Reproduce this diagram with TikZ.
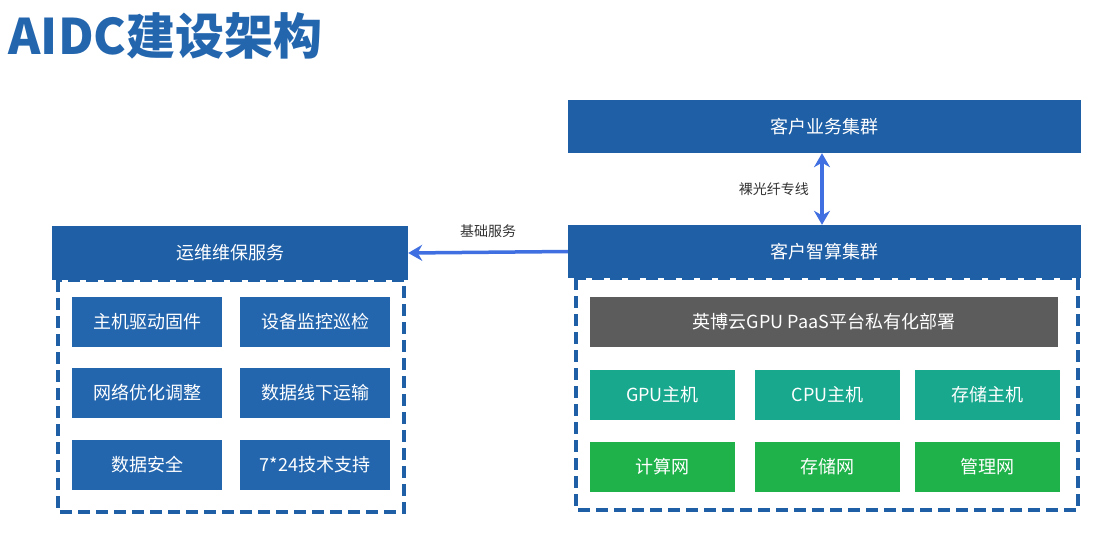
\documentclass[tikz,border=0pt]{standalone}
\usepackage{fontspec}
\setmainfont{Noto Sans CJK SC}
\usetikzlibrary{arrows.meta}
\definecolor{hdr}{HTML}{1F5FA6}
\definecolor{ibox}{HTML}{2466AE}
\definecolor{teal}{HTML}{17A88E}
\definecolor{grn}{HTML}{1FB24A}
\definecolor{gry}{HTML}{5C5C5C}
\definecolor{arr}{HTML}{3F6FE0}
\tikzset{
 bx/.style={draw=none,text=white,font=\fontsize{18}{20}\selectfont,inner sep=0pt},
 dashbox/.style={draw=hdr,line width=3.5pt,dash pattern=on 12pt off 6pt},
 ar/.style={draw=arr,line width=3.5pt,-{Stealth[length=14pt,width=16pt]}},
 lbl/.style={font=\fontsize{14}{16}\selectfont,text=black!80}
}
\begin{document}
\begin{tikzpicture}[x=1pt,y=-1pt]
\useasboundingbox (0,0) rectangle (1108,536);
\node[anchor=west,text=ibox,font=\fontsize{49}{52}\selectfont\bfseries] (title) at (5,36) {AIDC建设架构};
% right
\draw[dashbox] (576,278) rectangle (1078,510);
\node[bx,fill=hdr,minimum width=513,minimum height=53] (yw) at (824.5,126.5) {客户业务集群};
\node[bx,fill=hdr,minimum width=513,minimum height=53] (zs) at (824.5,251.5) {客户智算集群};
\draw[ar,{Stealth[length=14pt,width=16pt]}-{Stealth[length=14pt,width=16pt]}] (yw.south -| 822,0) -- (zs.north -| 822,0) node[midway,left=8pt,lbl] {裸光纤专线};
\node[bx,fill=gry,minimum width=468,minimum height=50] (paas) at (824,322) {英博云GPU PaaS平台私有化部署};
\foreach \t/\x/\n in {GPU主机/662.5/g,CPU主机/827.5/c,存储主机/987.5/s}
  \node[bx,fill=teal,minimum width=145,minimum height=50] (\n) at (\x,395) {\t};
\foreach \t/\x/\n in {计算网/662.5/n1,存储网/827.5/n2,管理网/987.5/n3}
  \node[bx,fill=grn,minimum width=145,minimum height=50] (\n) at (\x,467) {\t};
% left
\draw[dashbox] (58,280) rectangle (404,512);
\node[bx,fill=hdr,minimum width=356,minimum height=54] (yy) at (230,253) {运维维保服务};
\foreach \t/\x/\y/\n in {主机驱动固件/147/322/a,设备监控巡检/315/322/b,网络优化调整/147/393/c,数据线下运输/315/393/d,数据安全/147/465/e,7*24技术支持/315/465/f}
  \node[bx,fill=ibox,minimum width=150,minimum height=50] (\n) at (\x,\y) {\t};
\draw[ar] (zs.west) -- (yy.east) node[midway,above=10pt,lbl] {基础服务};
\end{tikzpicture}
\end{document}
